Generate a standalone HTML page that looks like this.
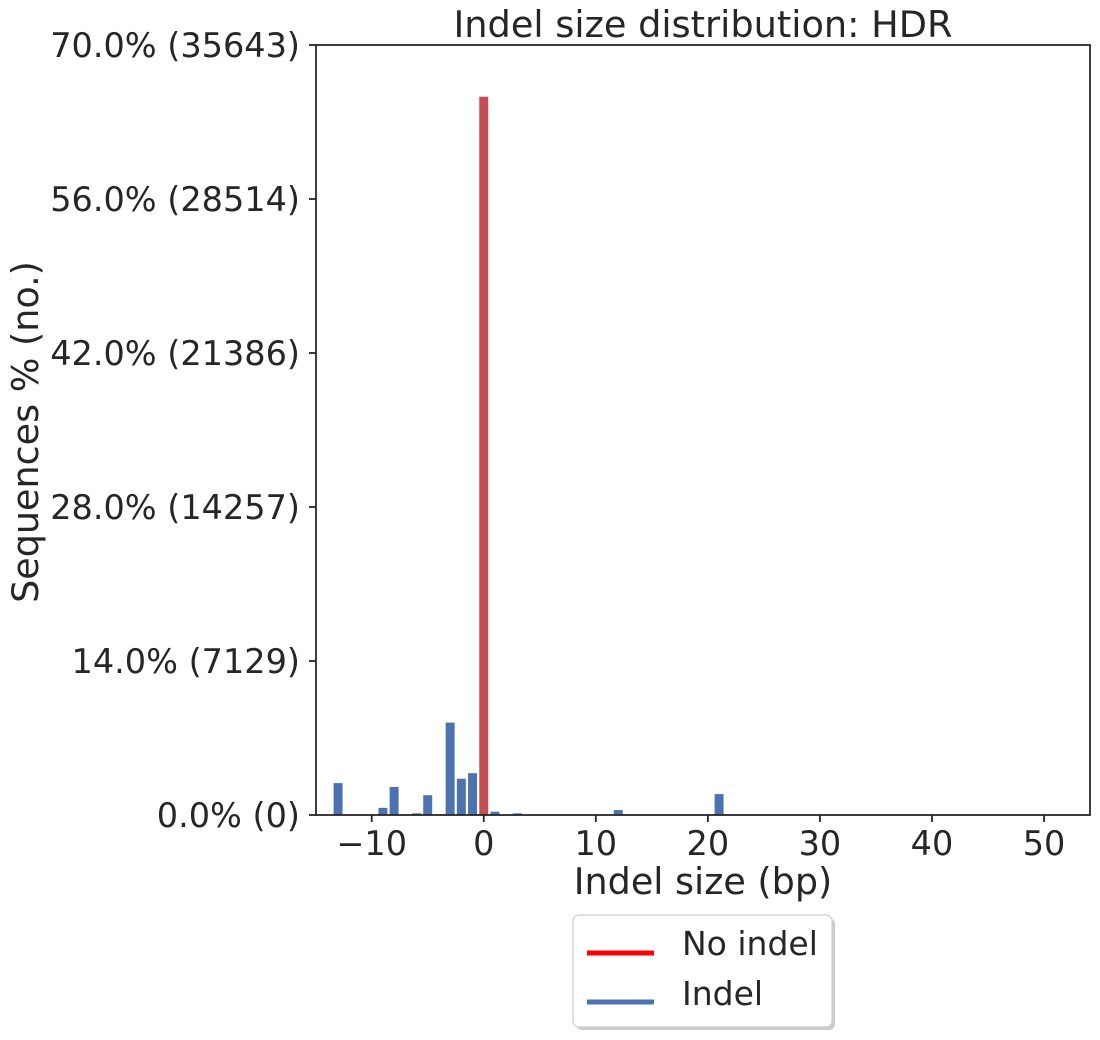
<!DOCTYPE html>
<html><head><meta charset="utf-8"><style>
body{margin:0;background:#fff}
svg text{font-family:"DejaVu Sans","Liberation Sans",sans-serif;fill:#262626}
</style></head><body>
<svg id="chart" width="1100" height="1035" xmlns="http://www.w3.org/2000/svg">
<text x="703" y="37" font-size="36.7" text-anchor="middle">Indel size distribution: HDR</text>
<g id="bars"></g>
<g id="yaxis"></g>
<g id="xaxis"></g>
<rect x="316" y="45" width="774" height="770" fill="none" stroke="#262626" stroke-width="1.8"/>
<text x="703" y="894" font-size="36.5" text-anchor="middle">Indel size (bp)</text>
<text transform="translate(38,432) rotate(-90)" font-size="36.5" text-anchor="middle">Sequences % (no.)</text>
<g>
<rect x="576" y="918" width="259" height="112" rx="6" fill="#999" opacity="0.5"/>
<rect x="573" y="915" width="259" height="112" rx="6" fill="#fff" stroke="#ccc" stroke-width="1.2"/>
<line x1="587" y1="953" x2="654" y2="953" stroke="#ff0000" stroke-width="5"/>
<text x="682" y="955" font-size="33">No indel</text>
<line x1="587" y1="1002" x2="654" y2="1002" stroke="#4c72b0" stroke-width="5"/>
<text x="682" y="1005" font-size="33">Indel</text>
</g>
</svg>
<script>
const indelSizes=[-13,-9,-8,-6,-5,-4,-3,-2,-1,0,1,3,9,12,14,21,24,44];
const percentValues=[2.9,0.65,2.55,0.15,1.8,0.05,8.4,3.3,3.8,65.3,0.3,0.15,0.05,0.45,0.05,1.9,0.05,0.05];
const yTickValues=[0,14,28,42,56,70];
const yTickLabels=["0.0% (0)","14.0% (7129)","28.0% (14257)","42.0% (21386)","56.0% (28514)","70.0% (35643)"];
const xTickValues=[-10,0,10,20,30,40,50];
const xTickLabels=["\u221210","0","10","20","30","40","50"];
const X0=316,X1=1090,Y0=815,Y1=45,XMIN=-14.97,XMAX=54.1,YMAX=70;
const xs=v=>X0+(v-XMIN)/(XMAX-XMIN)*(X1-X0);
const ys=v=>Y0-v/YMAX*(Y0-Y1);
const NS="http://www.w3.org/2000/svg";
const bars=document.getElementById('bars');
indelSizes.forEach((s,i)=>{
 const r=document.createElementNS(NS,'rect');
 const x=xs(s-0.4),w=xs(s+0.4)-x,y=ys(percentValues[i]);
 r.setAttribute('x',x);r.setAttribute('y',y);r.setAttribute('width',w);r.setAttribute('height',Y0-y);
 r.setAttribute('fill',s===0?'#c44e52':'#4c72b0');
 
 
 bars.appendChild(r);
});
const ya=document.getElementById('yaxis');
yTickValues.forEach((v,i)=>{
 const y=ys(v);
 const l=document.createElementNS(NS,'line');
 l.setAttribute('x1',309);l.setAttribute('x2',316);l.setAttribute('y1',y);l.setAttribute('y2',y);
 l.setAttribute('stroke','#262626');l.setAttribute('stroke-width','1.8');
 
 
 ya.appendChild(l);
 const t=document.createElementNS(NS,'text');
 t.setAttribute('x',300);t.setAttribute('y',y+12);t.setAttribute('font-size','33.5');t.setAttribute('text-anchor','end');
 t.textContent=yTickLabels[i];
 
 
 ya.appendChild(t);
});
const xa=document.getElementById('xaxis');
xTickValues.forEach((v,i)=>{
 const x=xs(v);
 const l=document.createElementNS(NS,'line');
 l.setAttribute('x1',x);l.setAttribute('x2',x);l.setAttribute('y1',815);l.setAttribute('y2',822);
 l.setAttribute('stroke','#262626');l.setAttribute('stroke-width','1.8');
 
 
 xa.appendChild(l);
 const t=document.createElementNS(NS,'text');
 t.setAttribute('x',x);t.setAttribute('y',855);t.setAttribute('font-size','33.5');t.setAttribute('text-anchor','middle');
 t.textContent=xTickLabels[i];
 
 
 xa.appendChild(t);
});
</script>
</body></html>
